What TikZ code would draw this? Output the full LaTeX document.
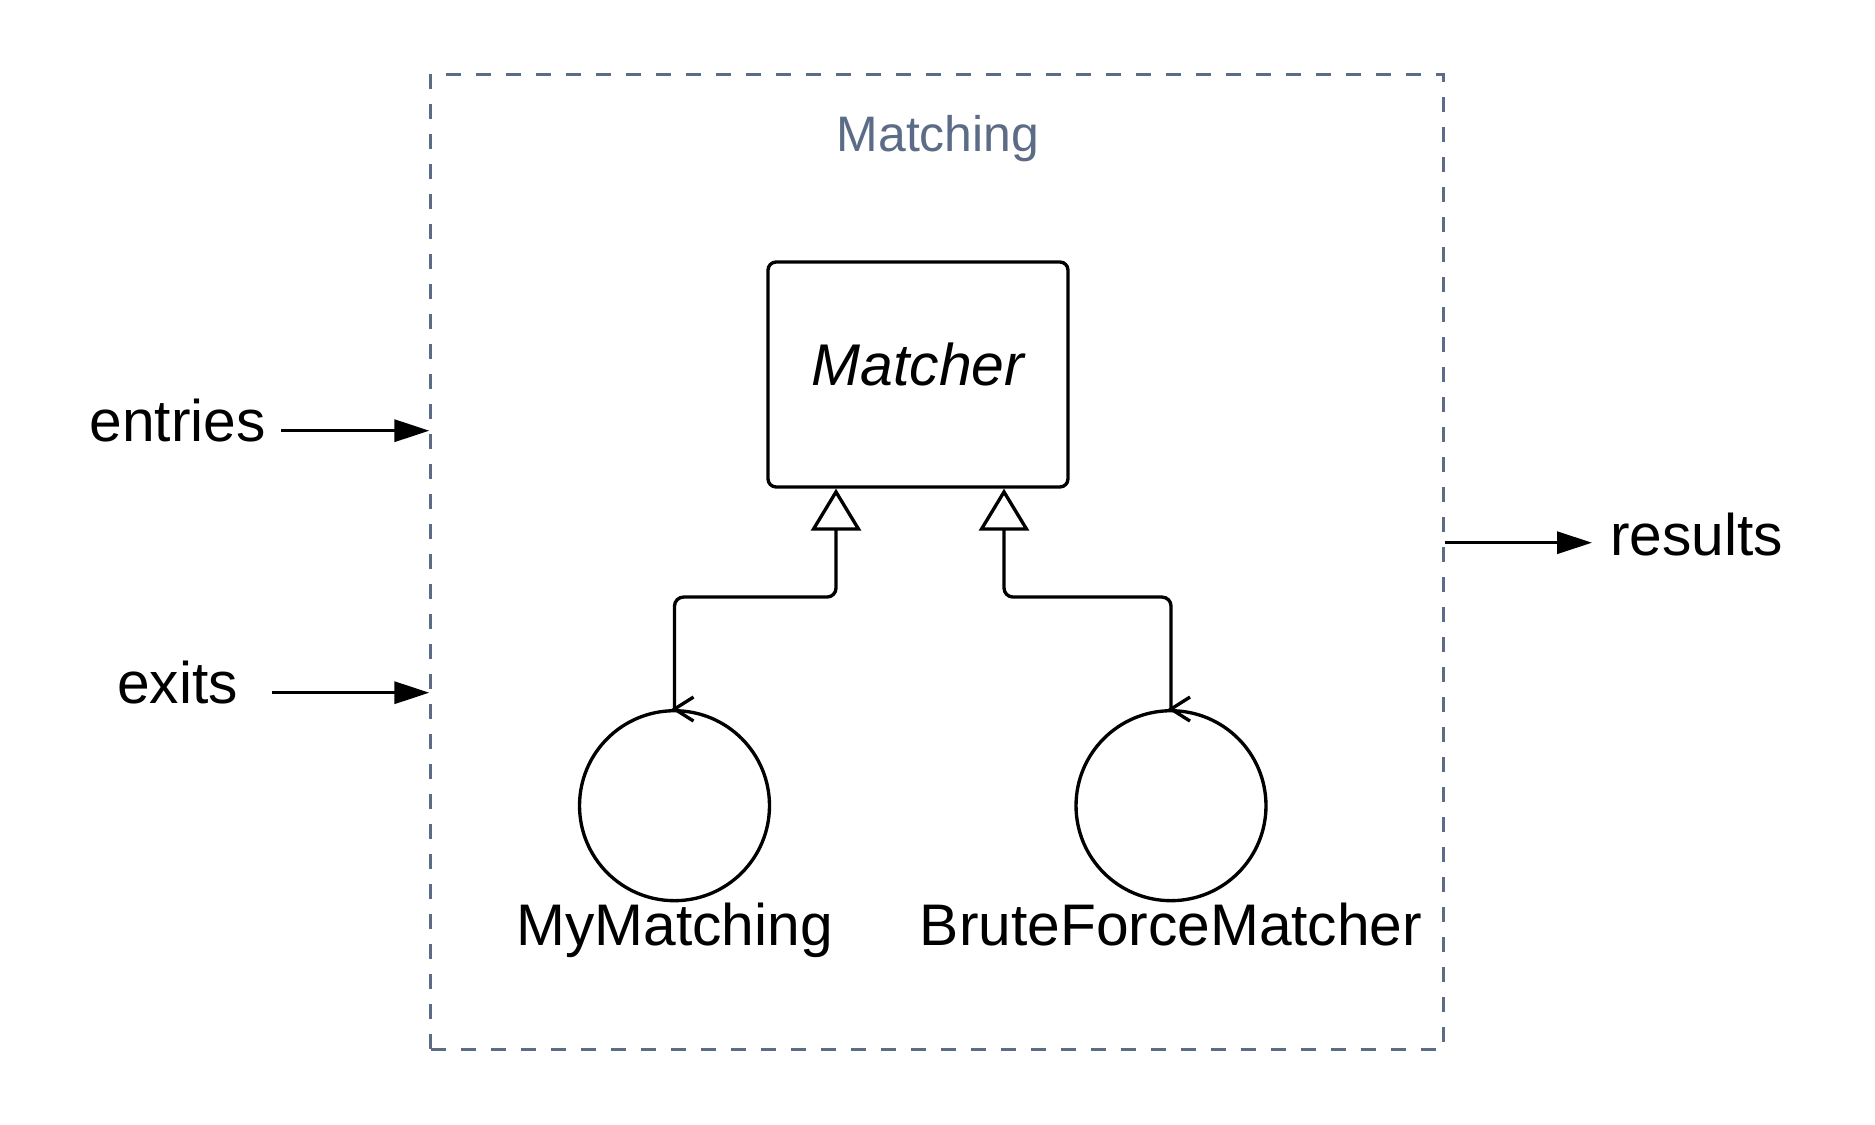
\documentclass[tikz,border=0pt]{standalone}
\usepackage{fontspec}
\setmainfont{Liberation Sans}
\usetikzlibrary{arrows.meta,calc}
\definecolor{framegray}{RGB}{92,108,135}

\begin{document}
\begin{tikzpicture}[x=0.02cm,y=-0.02cm,
    bigtext/.style={font=\fontsize{33.4pt}{39pt}\selectfont, inner sep=0pt},
    frame/.style={draw=framegray, line width=1.7pt, dash pattern=on 0.3cm off 0.3cm, minimum width=20.25cm, minimum height=19.5cm, inner sep=0pt},
    class/.style={draw, line width=1.9pt, rounded corners=0.16cm, minimum width=6cm, minimum height=4.5cm},
    control/.style={draw, circle, line width=1.9pt, minimum size=3.8cm, inner sep=0pt},
    flow/.style={line width=1.9pt, -{Triangle[length=0.7cm, width=0.44cm]}},
    inherit/.style={line width=1.9pt, rounded corners=0.18cm, -{Triangle[open, length=0.84cm, width=1cm]}}]
    \useasboundingbox (0,0) rectangle (1875,1125);
    % % ----- package ----- % %
    \node[frame] (frame) at (937,561.8) {};
    \node[font=\fontsize{28.4pt}{33pt}\selectfont, text=framegray, inner sep=0pt, anchor=base] (title) at (938,151.7) {Matching};
    % % ----- classes ----- % %
    \node[class, font=\fontsize{33.5pt}{39pt}\selectfont\itshape, text height=0.84cm, text depth=0.38cm] (matcher) at (918,374.5) {Matcher};
    \node[control] (mymatch) at (674.5,805.7) {};		% control 1
    \node[control] (brute) at (1171,805.7) {};		% control 2
    \node[bigtext, anchor=base] (mymatchlbl) at (674.5,945) {MyMatching};
    \node[bigtext, anchor=base] (brutelbl) at (1171,945) {BruteForceMatcher};
    \foreach \c in {mymatch,brute}
        \draw[line width=1.9pt] ($(\c.north)+(19,-12)$) -- (\c.north) -- ($(\c.north)+(19,12)$);
    % % ----- generalisation ----- % %
    \draw[inherit] (mymatch.north) -- ++(0,-112) -| ($(matcher.south)+(-82,0)$);
    \draw[inherit] (brute.north) -- ++(0,-112) -| ($(matcher.south)+(86,0)$);
    % % ----- ports ----- % %
    \node[bigtext, anchor=base] (entries) at (177.5,441.7) {entries};
    \node[bigtext, anchor=base] (exits) at (177.6,703) {exits};
    \node[bigtext, anchor=base] (results) at (1696.5,555) {results};
    \coordinate (in1) at (281,430.7);
    \coordinate (in2) at (272,692.7);
    \coordinate (out1) at (1592,542.7);
    \draw[flow] (in1) -- (in1 -| frame.west);		% entries
    \draw[flow] (in2) -- (in2 -| frame.west);		% exits
    \draw[flow] (out1 -| frame.east) -- (out1);		% results
\end{tikzpicture}
\end{document}
